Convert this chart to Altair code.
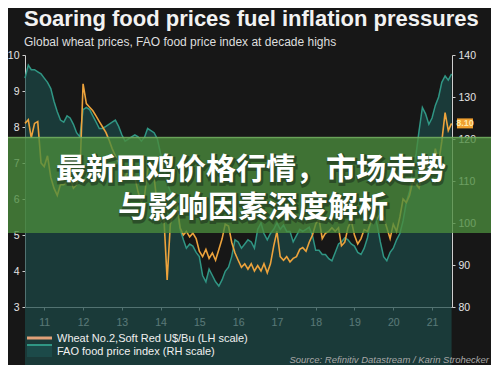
import altair as alt
import pandas as pd

# ---------------- data ----------------
wheat_2011 = [8.1, 8.2, 7.7, 8.1, 8.15, 7.0, 6.9, 7.2, 6.6, 6.3, 6.1, 6.4]
wheat_2012 = [6.4, 6.5, 6.6, 6.3, 6.4, 6.7, 9.2, 8.65, 8.55, 8.45, 8.3, 8.15]
wheat_2013 = [8.0, 7.85, 7.65, 7.4, 7.2, 7.0, 6.8, 6.6, 6.8, 6.9, 6.6, 6.2]
wheat_2014 = [5.9, 6.1, 6.8, 7.0, 6.6, 5.8, 5.4, 5.5, 3.75, 5.3, 5.6, 5.9]
wheat_2015 = [5.2, 5.0, 5.1, 4.95, 5.05, 4.9, 4.55, 4.4, 4.6, 4.35, 4.5, 4.3]
wheat_2016 = [4.6, 4.9, 5.3, 5.25, 4.8, 4.5, 4.3, 4.1, 4.2, 4.05, 4.2, 4.0]
wheat_2017 = [4.15, 4.0, 4.2, 3.95, 4.2, 4.7, 5.1, 4.4, 4.3, 4.4, 4.25, 4.35]
wheat_2018 = [4.4, 4.6, 4.65, 4.55, 4.8, 5.0, 5.3, 5.45, 4.9, 5.05, 5.1, 5.2]
wheat_2019 = [5.1, 5.2, 4.7, 4.8, 5.2, 5.4, 5.0, 4.75, 4.9, 5.15, 5.1, 5.35]
wheat_2020 = [5.6, 5.45, 5.6, 5.5, 5.2, 4.9, 5.3, 5.1, 5.5, 6.0, 5.9, 6.1]
wheat_2021 = [6.5, 6.4, 6.3, 6.8, 7.2, 6.6, 6.8, 7.4, 7.0, 7.6, 8.4, 7.9]
wheat_2022 = [8.1]

fao_2011 = [134.5, 137.6, 136.5, 136.5, 136.0, 135.5, 134.5, 133.5, 132.0, 129.0, 126.5, 124.5]
fao_2012 = [124.0, 125.5, 125.0, 123.5, 121.5, 120.5, 127.0, 127.5, 127.0, 125.5, 124.0, 122.5]
fao_2013 = [122.5, 123.0, 123.5, 124.0, 124.5, 123.0, 121.0, 119.5, 120.0, 120.5, 121.0, 120.5]
fao_2014 = [119.5, 120.5, 122.5, 122.0, 121.5, 120.0, 116.5, 113.0, 109.5, 107.5, 106.5, 104.0]
fao_2015 = [98.5, 96.0, 94.0, 95.0, 94.5, 93.0, 92.0, 87.5, 86.0, 89.0, 87.5, 86.0]
fao_2016 = [85.0, 86.5, 88.5, 89.5, 92.0, 96.0, 95.5, 94.0, 95.0, 96.0, 95.5, 94.0]
fao_2017 = [98.5, 100.0, 97.5, 96.0, 97.5, 98.5, 100.0, 98.5, 99.5, 98.0, 98.0, 95.5]
fao_2018 = [97.0, 98.5, 98.0, 98.5, 99.0, 97.0, 93.5, 93.5, 92.5, 92.5, 91.5, 91.0]
fao_2019 = [93.0, 95.0, 95.5, 96.5, 96.0, 95.0, 94.5, 93.0, 92.5, 94.0, 96.5, 100.5]
fao_2020 = [102.5, 99.5, 95.5, 92.0, 91.0, 93.0, 94.0, 96.0, 97.5, 100.5, 105.0, 107.5]
fao_2021 = [113.0, 116.5, 122.0, 127.5, 126.0, 123.5, 125.0, 128.0, 130.0, 133.5, 135.0, 134.0]
fao_2022 = [135.5]

wheat = (wheat_2011 + wheat_2012 + wheat_2013 + wheat_2014 + wheat_2015 + wheat_2016
         + wheat_2017 + wheat_2018 + wheat_2019 + wheat_2020 + wheat_2021 + wheat_2022)
fao = (fao_2011 + fao_2012 + fao_2013 + fao_2014 + fao_2015 + fao_2016
       + fao_2017 + fao_2018 + fao_2019 + fao_2020 + fao_2021 + fao_2022)
months = pd.date_range("2011-01-01", periods=len(wheat), freq="MS").strftime("%Y-%m-%d")

label_years = list(range(2011, 2022))
left_ticks = [3, 4, 5, 6, 7, 8, 9, 10]
right_ticks = [80, 90, 100, 110, 120, 130, 140]

title_text = "Soaring food prices fuel inflation pressures"
subtitle_text = "Global wheat prices, FAO food price index at decade highs"
legend_wheat = "Wheat No.2,Soft Red U$/Bu (LH scale)"
legend_fao = "FAO food price index (RH scale)"
source_text = "Source: Refinitiv Datastream / Karin Strohecker"
banner_line1 = "最新田鸡价格行情，市场走势"
banner_line2 = "与影响因素深度解析"

df = pd.DataFrame({"date": months, "wheat": wheat, "fao": fao})
last = df.tail(1)
one = pd.DataFrame({"k": [0]})

# ---------------- styles ----------------
BG = "#171717"
AXC = "#cfcfcf"
LAB = "#e4e4e4"
WHEAT_C = "#eda33c"
FAO_LINE = "#309684"
FAO_FILL = "#1c4a49"
FONT = "Liberation Sans"
W, H = 427, 252

xscale = alt.Scale(domain=[alt.DateTime(year=2011, month=1, date=1),
                           alt.DateTime(year=2022, month=1, date=5)])
xaxis = alt.Axis(values=[alt.DateTime(year=y, month=7, date=1) for y in label_years],
                 format="%y", title=None, grid=False, domainColor=AXC, tickColor=AXC,
                 labelColor=LAB, labelFontSize=10.5, labelFont=FONT, tickSize=3,
                 labelPadding=7)

fao_area = alt.Chart(df).mark_area(
    color=FAO_FILL, line={"color": FAO_LINE, "strokeWidth": 1.5}
).encode(
    x=alt.X("date:T", scale=xscale, axis=xaxis),
    y=alt.Y("fao:Q", scale=alt.Scale(domain=[80, 140], nice=False, zero=False),
            axis=alt.Axis(orient="right", values=right_ticks, title=None, grid=False,
                          domainColor=AXC, tickColor=AXC, labelColor=LAB,
                          labelFontSize=10.5, labelFont=FONT, tickSize=3, labelPadding=3)),
)

wheat_line = alt.Chart(df).mark_line(color=WHEAT_C, strokeWidth=1.6).encode(
    x=alt.X("date:T", scale=xscale),
    y=alt.Y("wheat:Q", scale=alt.Scale(domain=[3, 10], nice=False, zero=False),
            axis=alt.Axis(orient="left", values=left_ticks, title=None, grid=False,
                          domainColor=AXC, tickColor=AXC, labelColor=LAB,
                          labelFontSize=10.5, labelFont=FONT, tickSize=3, labelPadding=3)),
)

box = alt.Chart(last).mark_point(
    shape="M-1.6,-1H1.6V1H-1.6Z", size=100, filled=True, color="#f0a030", opacity=1
).encode(
    x=alt.value(440),
    y=alt.Y("wheat:Q", scale=alt.Scale(domain=[3, 10], nice=False, zero=False), axis=None),
)
box_text = alt.Chart(last).mark_text(color="#ffe9a8", fontSize=9, font=FONT, fontWeight="bold").encode(
    x=alt.value(440),
    y=alt.Y("wheat:Q", scale=alt.Scale(domain=[3, 10], nice=False, zero=False), axis=None),
    text=alt.Text("wheat:Q", format=".2f"),
)

band = alt.Chart(one).mark_rect(color="#4a8c3c", opacity=0.78).encode(
    x=alt.value(-17), x2=alt.value(466), y=alt.value(82), y2=alt.value(178))
band_top = alt.Chart(one).mark_rule(color="#7cb86a", strokeWidth=1.5, opacity=0.7).encode(
    x=alt.value(-17), x2=alt.value(466), y=alt.value(82.5))

def banner(txt, x, y):
    shadow = alt.Chart(one).mark_text(
        text=txt, font="Noto Sans CJK SC", fontSize=30, fontWeight="bold",
        color="#1b2e1b", stroke="#1b2e1b", strokeWidth=3, opacity=0.55,
        dx=1, dy=1.5, align="center", baseline="middle",
    ).encode(x=alt.value(x), y=alt.value(y))
    front = alt.Chart(one).mark_text(
        text=txt, font="Noto Sans CJK SC", fontSize=30, fontWeight="bold",
        color="#ffffff", align="center", baseline="middle",
    ).encode(x=alt.value(x), y=alt.value(y))
    return [shadow, front]

def label(txt, x, y, size, color="#ffffff", weight="normal", align="left",
          baseline="middle", style="normal"):
    return alt.Chart(one).mark_text(
        text=txt, font=FONT, fontSize=size, fontWeight=weight, color=color,
        align=align, baseline=baseline, fontStyle=style,
    ).encode(x=alt.value(x), y=alt.value(y))

title = label(title_text, -1, -29, 22, "#f2f2f2", "bold", baseline="alphabetic")
subtitle = label(subtitle_text, -1, -9, 12, "#dedede", baseline="alphabetic")

leg_line = alt.Chart(one).mark_rule(color="#e0a078", strokeWidth=3).encode(
    x=alt.value(2), x2=alt.value(27), y=alt.value(283))
leg_fill = alt.Chart(one).mark_rect(color=FAO_FILL).encode(
    x=alt.value(2), x2=alt.value(27), y=alt.value(290), y2=alt.value(302))
leg_fill_line = alt.Chart(one).mark_rule(color=FAO_LINE, strokeWidth=2).encode(
    x=alt.value(2), x2=alt.value(27), y=alt.value(290))
leg_t1 = label(legend_wheat, 32, 284, 11, "#f0f0f0")
leg_t2 = label(legend_fao, 32, 297, 11, "#f0f0f0")
source = label(source_text, 464, 305, 9.5, "#a8a8a8", align="right", style="italic")

layers = ([fao_area, wheat_line, box, box_text, band, band_top]
          + banner(banner_line1, 226, 115) + banner(banner_line2, 228, 153)
          + [title, subtitle, leg_line, leg_fill, leg_fill_line, leg_t1, leg_t2, source])

chart = alt.layer(*layers).resolve_scale(y="independent").properties(
    width=W, height=H,
    autosize=alt.AutoSizeParams(type="none"),
    padding={"left": 17, "top": 47, "right": 39, "bottom": 58},
    background=BG,
).configure_view(stroke=None)

chart.save("out.html", embed_options={"renderer": "svg", "actions": False})
